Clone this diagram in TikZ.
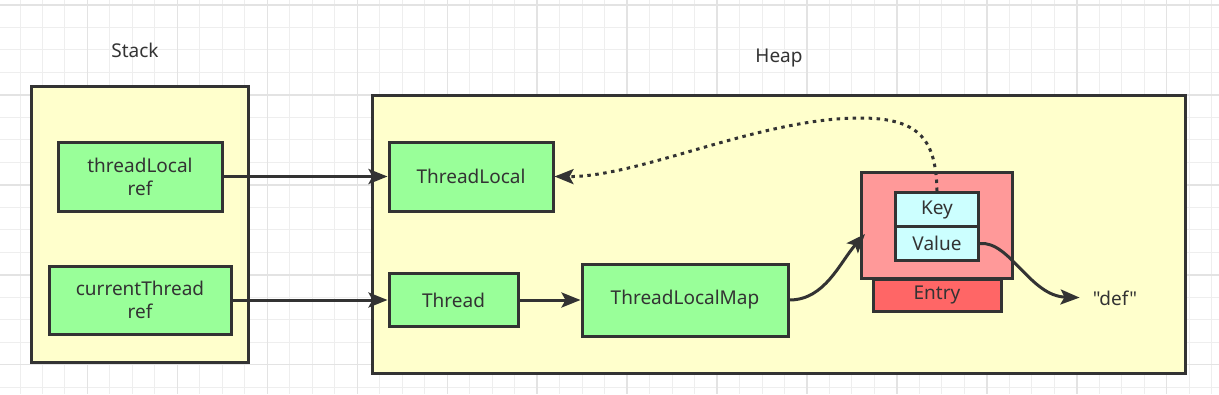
\documentclass[tikz,border=0pt]{standalone}
\usepackage{fontspec}
\setmainfont{Noto Sans}
\newfontfamily\rawfont{Noto Sans}
\usetikzlibrary{arrows.meta}
\definecolor{ink}{HTML}{333333}
\definecolor{heapyellow}{HTML}{FFFFCC}
\definecolor{boxgreen}{HTML}{99FF99}
\definecolor{entrypink}{HTML}{FF9999}
\definecolor{entryred}{HTML}{FF6666}
\definecolor{keycyan}{HTML}{CCFFFF}
\definecolor{gridminor}{HTML}{EEEEEE}
\definecolor{gridmajor}{HTML}{E3E3E3}
\tikzset{
  minorgrid/.style={draw=gridminor, line width=1pt},
  majorgrid/.style={draw=gridmajor, line width=1.4pt},
  container/.style={draw=ink, line width=3pt, fill=heapyellow, inner sep=0pt},
  objbox/.style={draw=ink, line width=3pt, fill=boxgreen, inner sep=0pt, align=center, text=ink,
    font=\fontsize{19}{23}\selectfont},
  label/.style={text=ink, font=\fontsize{19}{23}\selectfont, inner sep=0pt},
  conn/.style={draw=ink, line width=3pt, -{Stealth[length=19pt,width=15pt,inset=4pt]}},
  dotconn/.style={draw=ink, line width=3pt, dash pattern=on 3.5pt off 4.5pt,
    -{Stealth[length=19pt,width=15pt,inset=4pt]}},
}
\begin{document}
\begin{tikzpicture}[x=1pt,y=-1pt]
\useasboundingbox (0,0) rectangle (1219,394);
\fill[white] (0,0) rectangle (1219,394);
% grid
\foreach \i in {-1,...,53} {\draw[minorgrid] ({20+22.485*\i},0) -- ({20+22.485*\i},394);}
\foreach \j in {0,...,17} {\draw[minorgrid] (0,{5+22.485*\j}) -- (1219,{5+22.485*\j});}
\foreach \i in {-1,3,...,51} {\draw[majorgrid] ({20+22.485*\i},0) -- ({20+22.485*\i},394);}
\foreach \j in {0,4,...,16} {\draw[majorgrid] (0,{5+22.485*\j}) -- (1219,{5+22.485*\j});}

% containers
\node[container, minimum width=217pt, minimum height=276pt] (stack) at (139.5,224) {};
\node[container, minimum width=813pt, minimum height=278pt] (heap) at (778.5,234) {};
\node[label] (stacklbl) at (135,50) {Stack};
\node[label] (heaplbl) at (779,58) {Heap};

% stack objects
\node[objbox, minimum width=164pt, minimum height=69pt] (tlref) at (140,176.5) {threadLocal\\ref};
\node[objbox, minimum width=182pt, minimum height=68pt] (ctref) at (140,300) {currentThread\\ref};

% heap objects
\node[objbox, minimum width=164pt, minimum height=69pt] (tl) at (471,176.5) {ThreadLocal};
\node[objbox, minimum width=129pt, minimum height=53pt] (thread) at (453.5,300) {Thread};
\node[objbox, minimum width=206pt, minimum height=72pt] (tlmap) at (685,300) {ThreadLocalMap};

% entry
\node[objbox, fill=entrypink, minimum width=150.5pt, minimum height=105.5pt] (entry) at (937,225.5) {};
\node[objbox, fill=entryred, minimum width=128pt, minimum height=32pt] (entrylbl) at (937,295) {Entry};
\node[objbox, fill=keycyan, minimum width=83pt, minimum height=34pt] (key) at (937,209.5) {Key};
\node[objbox, fill=keycyan, minimum width=83pt, minimum height=34pt] (value) at (937,243.5) {Value};

\node[label] (def) at (1115,298) {\rawfont "def"};

% connectors
\draw[conn] (tlref.east) -- (tl.west);
\draw[conn] (ctref.east) -- (thread.west |- ctref.east);
\draw[conn] (thread.east) -- (tlmap.west);
\draw[conn] (tlmap.east) .. controls (825,300) and (840,262) .. (865,234);
\draw[conn, shorten >=13pt] (value.east) .. controls (1010,241) and (1030,296) .. (def.west);
\draw[dotconn] (key.north) .. controls (936,140) and (920,118) .. (860,118)
  .. controls (760,118) and (640,177) .. (tl.east);
\end{tikzpicture}
\end{document}
